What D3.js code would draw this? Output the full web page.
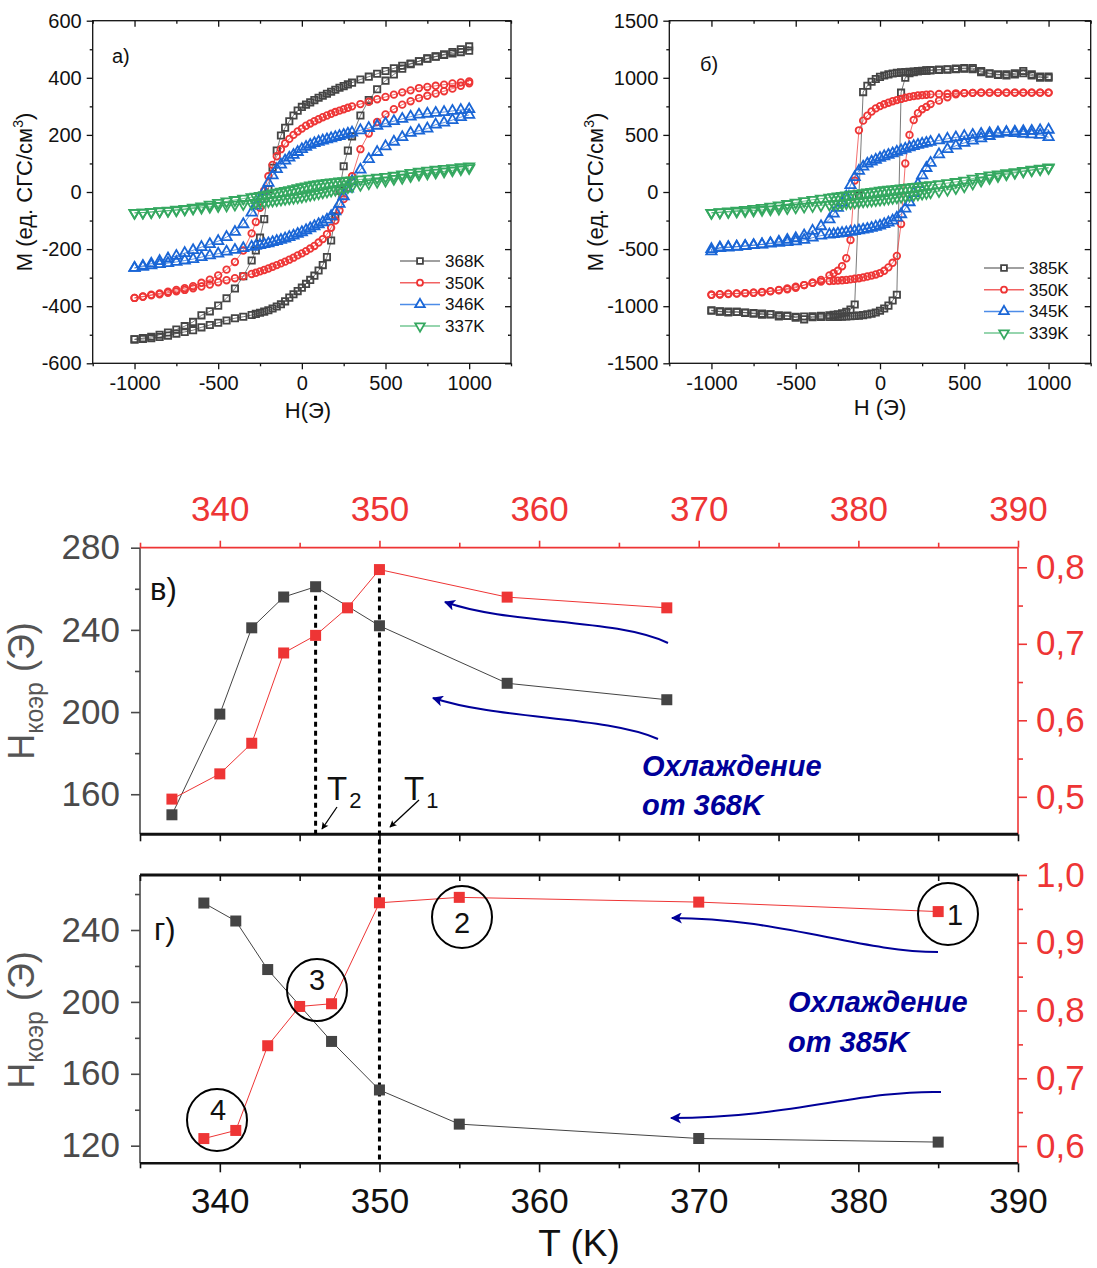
<!DOCTYPE html>
<html><head><meta charset="utf-8">
<script src="https://cdn.jsdelivr.net/npm/d3@7"></script>
<style>body{margin:0;background:#fff;} svg{display:block;}</style>
</head><body>
<svg id="c" width="1097" height="1268"></svg>
<script>
// ---------- DATA: hysteresis loops (field grid shared by all branches) ----------
const H_GRID = [1000,950,900,850,800,750,700,650,600,550,500,450,400,350,300,275,250,225,200,175,150,125,100,75,50,25,0,-25,-50,-75,-100,-125,-150,-175,-200,-225,-250,-275,-300,-350,-400,-450,-500,-550,-600,-650,-700,-750,-800,-850,-900,-950,-1000];
const H_TICKS = [-1000,-500,0,500,1000];
const H_MINOR = [-1250,-750,-250,250,750,1250];

// panel а) cooling from 368K
const A_LABELS = ['368K','350K','346K','337K'];
const A_368_DOWN = [495,490,485,480,474,467,458,450,442,433,424,414,404,394,383,377,371,365,358,351,344,337,330,322,314,306,298,285,268,248,225,198,145,85,10,-95,-160,-205,-240,-295,-338,-372,-398,-418,-432,-455,-470,-482,-492,-500,-507,-512,-516];
const A_368_UP   = [510,500,490,482,475,468,458,448,432,412,390,360,322,268,195,145,90,5,-85,-170,-228,-256,-275,-293,-308,-322,-335,-347,-358,-370,-383,-393,-401,-408,-414,-419,-423,-427,-431,-437,-442,-450,-458,-466,-474,-484,-490,-496,-503,-508,-512,-515,-516];
const A_350_DOWN = [387,384,380,376,372,368,364,356,349,341,333,325,316,308,300,295,290,285,280,274,268,262,255,248,240,232,222,212,200,186,170,150,125,95,55,5,-55,-105,-145,-205,-245,-272,-292,-307,-318,-330,-337,-343,-349,-355,-360,-366,-371];
const A_350_UP   = [381,372,362,353,345,337,329,318,306,290,272,245,205,150,55,15,-25,-65,-100,-125,-148,-165,-177,-189,-198,-207,-215,-222,-230,-237,-244,-250,-256,-262,-268,-273,-278,-283,-287,-295,-302,-309,-316,-324,-331,-337,-343,-348,-353,-358,-362,-367,-371];
const A_346_DOWN = [290,287,284,280,277,274,271,264,256,248,240,232,224,216,208,204,200,196,192,188,184,180,176,171,165,158,150,140,130,120,110,96,80,58,32,2,-25,-48,-72,-113,-140,-158,-172,-183,-193,-204,-214,-224,-233,-242,-251,-259,-266];
const A_346_UP   = [270,262,252,243,236,222,215,207,192,176,160,140,115,78,38,12,-15,-42,-68,-85,-97,-106,-113,-120,-127,-134,-141,-147,-153,-158,-163,-168,-172,-176,-180,-183,-186,-189,-192,-197,-203,-209,-216,-222,-228,-235,-240,-245,-249,-253,-257,-262,-266];
const A_337_DOWN = [90,87,84,81,78,75,71,67,62,57,53,50,47,44,41,40,38,37,35,34,32,30,28,26,23,20,17,14,10,7,4,1,-2,-5,-8,-11,-14,-16,-18,-23,-28,-33,-38,-44,-50,-55,-59,-62,-65,-67,-70,-72,-73];
const A_337_UP   = [84,80,76,72,68,65,61,56,50,46,40,36,31,25,20,17,14,11,8,5,2,-1,-4,-7,-10,-13,-16,-18,-20,-22,-24,-26,-28,-30,-32,-34,-36,-38,-40,-42,-44,-47,-49,-52,-55,-58,-61,-64,-66,-68,-70,-72,-73];
const A_M_TICKS = [-600,-400,-200,0,200,400,600];
const A_M_MINOR = [-500,-300,-100,100,300,500];

// panel б) cooling from 385K
const B_LABELS = ['385K','350K','345K','339K'];
const B_385_DOWN = [1000,1010,1030,1060,1040,1030,1025,1035,1050,1075,1080,1075,1072,1068,1065,1063,1060,1058,1055,1052,1050,1047,1043,1038,1030,1020,1008,990,965,930,875,-30,-985,-1030,-1050,-1062,-1070,-1076,-1080,-1085,-1088,-1090,-1092,-1085,-1080,-1072,-1065,-1060,-1055,-1050,-1048,-1045,-1040];
const B_385_UP   = [1010,1000,1020,1040,1030,1020,1030,1040,1060,1085,1085,1080,1075,1072,1068,1065,1062,1058,1050,1040,1000,870,-900,-950,-995,-1020,-1040,-1055,-1065,-1072,-1078,-1082,-1085,-1088,-1090,-1092,-1093,-1094,-1095,-1095,-1097,-1115,-1100,-1085,-1090,-1070,-1075,-1065,-1058,-1050,-1055,-1048,-1035];
const B_350_DOWN = [870,870,870,870,870,870,870,870,870,868,866,864,860,858,855,852,848,845,840,833,825,815,805,795,782,768,752,732,705,668,625,540,100,-420,-580,-650,-690,-712,-730,-770,-795,-815,-830,-845,-858,-870,-878,-882,-885,-888,-890,-895,-900];
const B_350_UP   = [870,870,870,870,870,870,870,870,870,868,866,855,830,800,770,745,725,690,630,500,250,-280,-560,-620,-660,-690,-710,-722,-732,-740,-748,-755,-760,-765,-770,-773,-776,-778,-780,-785,-795,-815,-838,-852,-860,-868,-876,-882,-886,-890,-893,-897,-900];
const B_345_DOWN = [545,540,535,532,528,525,520,515,508,500,490,478,466,452,438,430,422,412,402,390,378,365,352,338,325,312,298,282,265,248,222,185,130,60,-40,-95,-140,-190,-240,-300,-340,-380,-405,-420,-435,-448,-458,-466,-474,-480,-486,-492,-500];
const B_345_UP   = [480,500,505,510,515,520,510,490,470,450,430,405,375,330,255,210,145,70,-10,-90,-145,-195,-225,-250,-268,-282,-295,-305,-315,-323,-330,-337,-343,-349,-355,-360,-365,-369,-373,-382,-400,-420,-432,-440,-445,-452,-460,-466,-472,-478,-482,-486,-520];
const B_339_DOWN = [215,205,195,185,175,165,155,145,132,118,100,88,78,68,60,56,52,48,44,40,36,32,28,24,20,16,11,6,1,-4,-9,-14,-19,-24,-29,-34,-39,-44,-49,-58,-68,-80,-92,-105,-118,-128,-138,-148,-156,-163,-170,-176,-182];
const B_339_UP   = [210,200,190,180,168,155,140,122,100,75,50,35,20,8,-2,-8,-14,-20,-26,-31,-36,-41,-46,-51,-56,-61,-66,-70,-74,-78,-82,-86,-90,-94,-98,-101,-104,-107,-110,-116,-122,-128,-134,-140,-146,-152,-157,-162,-167,-171,-175,-179,-182];
const B_M_TICKS = [-1500,-1000,-500,0,500,1000,1500];
const B_M_MINOR = [-1250,-750,-250,250,750,1250];

// panel в) coercivity vs T, cooling from 368K
const V_T_HC = [337,340,342,344,346,350,358,368];
const V_HC   = [150,199,241,256,261,242,214,206];
const V_T_R  = [337,340,342,344,346,348,350,358,368];
const V_R    = [0.497,0.530,0.570,0.688,0.711,0.747,0.797,0.761,0.747];
// panel г) coercivity vs T, cooling from 385K
const G_T_HC = [339,341,343,347,350,355,370,385];
const G_HC   = [255,245,218,178,151,132,124,122];
const G_T_R  = [339,341,343,345,347,350,355,370,385];
const G_R    = [0.611,0.623,0.748,0.806,0.810,0.959,0.967,0.960,0.946];

const T_TICKS = [340,350,360,370,380,390];
const T_MINOR = [335,345,355,365,375,385];
const V_HC_TICKS = [160,200,240,280], V_HC_MINOR = [180,220,260];
const V_R_TICKS = [0.5,0.6,0.7,0.8], V_R_MINOR = [0.55,0.65,0.75];
const G_HC_TICKS = [120,160,200,240], G_HC_MINOR = [140,180,220,260];
const G_R_TICKS = [0.6,0.7,0.8,0.9,1.0], G_R_MINOR = [0.65,0.75,0.85,0.95];

// ---------- DRAWING ----------
const FONT = '"Liberation Sans", Arial, Helvetica, sans-serif';
const svg = d3.select('#c').attr('font-family', FONT);
const COLORS = ['#454545','#ee3535','#1a66d6','#35a860'];
const LEG_COLORS = ['#808080','#f26262','#4d8ce8','#73c793'];
const SYMS = [
  {t:d3.symbolSquare, s:40, r:0},
  {t:d3.symbolCircle, s:34, r:0},
  {t:d3.symbolTriangle, s:46, r:0},
  {t:d3.symbolTriangle, s:46, r:180}
];

const defs = svg.append('defs');
defs.append('marker').attr('id','arrBlue').attr('viewBox','0 0 10 10').attr('refX',9).attr('refY',5)
  .attr('markerUnits','userSpaceOnUse').attr('markerWidth',15).attr('markerHeight',11).attr('orient','auto')
  .append('path').attr('d','M0,0 L10,5 L0,10 L2.5,5 z').attr('fill','#000099');
defs.append('marker').attr('id','arrBlack').attr('viewBox','0 0 10 10').attr('refX',9).attr('refY',5)
  .attr('markerUnits','userSpaceOnUse').attr('markerWidth',10).attr('markerHeight',7).attr('orient','auto')
  .append('path').attr('d','M0,0 L10,5 L0,10 L2,5 z').attr('fill','#000');

function styleAxis(s, color, fs, w) {
  s.select('.domain').remove();
  s.attr('font-family', FONT).attr('font-size', fs);
  s.selectAll('line').attr('stroke', color).attr('stroke-width', w || 1.3);
  s.selectAll('text').attr('fill', color);
  return s;
}

function drawLoop(p) {
  const x = d3.scaleLinear().domain([-1250,1250]).range([p.x0,p.x1]);
  const y = d3.scaleLinear().domain(p.yDom).range([p.y1,p.y0]);
  const g = svg.append('g');
  const fmt = d => String(d);
  g.append('g').attr('transform',`translate(0,${p.y1})`)
    .call(d3.axisBottom(x).tickValues(H_TICKS).tickSize(6).tickFormat(fmt))
    .call(s => { styleAxis(s,'#111',20); s.selectAll('text').attr('y',27).attr('dy',0); });
  g.append('g').attr('transform',`translate(0,${p.y1})`)
    .call(d3.axisBottom(x).tickValues(H_MINOR).tickSize(3).tickFormat(''))
    .call(s => styleAxis(s,'#111',20));
  g.append('g').attr('transform',`translate(0,${p.y0})`)
    .call(d3.axisTop(x).tickValues(H_TICKS).tickSize(-6).tickFormat(''))
    .call(s => styleAxis(s,'#111',20));
  g.append('g').attr('transform',`translate(0,${p.y0})`)
    .call(d3.axisTop(x).tickValues(H_MINOR).tickSize(-3).tickFormat(''))
    .call(s => styleAxis(s,'#111',20));
  g.append('g').attr('transform',`translate(${p.x0},0)`)
    .call(d3.axisLeft(y).tickValues(p.yTicks).tickSize(6).tickPadding(5).tickFormat(fmt))
    .call(s => styleAxis(s,'#111',20));
  g.append('g').attr('transform',`translate(${p.x0},0)`)
    .call(d3.axisLeft(y).tickValues(p.yMinor).tickSize(3).tickFormat(''))
    .call(s => styleAxis(s,'#111',20));
  g.append('g').attr('transform',`translate(${p.x1},0)`)
    .call(d3.axisRight(y).tickValues(p.yTicks).tickSize(-6).tickFormat(''))
    .call(s => styleAxis(s,'#111',20));
  g.append('g').attr('transform',`translate(${p.x1},0)`)
    .call(d3.axisRight(y).tickValues(p.yMinor).tickSize(-3).tickFormat(''))
    .call(s => styleAxis(s,'#111',20));
  g.append('rect').attr('x',p.x0).attr('y',p.y0).attr('width',p.x1-p.x0).attr('height',p.y1-p.y0)
    .attr('fill','none').attr('stroke','#111').attr('stroke-width',1.3);

  const line = d3.line().x(d => x(d[0])).y(d => y(d[1]));
  p.series.forEach((se, i) => {
    const down = H_GRID.map((h,k) => [h, se.down[k]]);
    const up = H_GRID.map((h,k) => [h, se.up[k]]).reverse();
    const pts = down.concat(up);
    g.append('path').attr('d', line(pts)).attr('fill','none').attr('stroke',COLORS[i]).attr('stroke-width',0.9).attr('opacity',0.8);
    const sym = d3.symbol().type(SYMS[i].t).size(SYMS[i].s);
    g.append('g').selectAll('path').data(pts).join('path')
      .attr('d', sym())
      .attr('transform', d => `translate(${x(d[0])},${y(d[1])}) rotate(${SYMS[i].r})`)
      .attr('fill','none').attr('stroke',COLORS[i]).attr('stroke-width',1.8);
  });
  p.series.forEach((se, i) => {
    const ly = p.legY + i*21.7;
    g.append('line').attr('x1',p.legX).attr('x2',p.legX+40).attr('y1',ly).attr('y2',ly)
      .attr('stroke',LEG_COLORS[i]).attr('stroke-width',1.5);
    g.append('path').attr('d', d3.symbol().type(SYMS[i].t).size(SYMS[i].s - 6)())
      .attr('transform',`translate(${p.legX+20},${ly}) rotate(${SYMS[i].r})`)
      .attr('fill','#fff').attr('stroke',COLORS[i]).attr('stroke-width',1.8);
    g.append('text').attr('x',p.legX+45).attr('y',ly+6).attr('font-size',17).attr('fill','#111').text(se.label);
  });
  g.append('text').attr('x',p.tagX).attr('y',p.tagY).attr('font-size',20).attr('fill','#111').text(p.tag);
  g.append('text').attr('x',p.xlabX).attr('y',p.xlabY).attr('text-anchor','middle').attr('font-size',22).attr('fill','#111').text(p.xlab);
  const yl = g.append('text').attr('transform',`translate(${p.ylabX},${(p.y0+p.y1)/2}) rotate(-90)`)
    .attr('text-anchor','middle').attr('font-size',22).attr('fill','#111');
  yl.append('tspan').text('M (ед. СГС/см');
  yl.append('tspan').attr('font-size',14).attr('dy',-9).text('3');
  yl.append('tspan').attr('dy',9).text(')');
}

drawLoop({x0:92.7, x1:511, y0:20.7, y1:363.3, yDom:[-600,600], yTicks:A_M_TICKS, yMinor:A_M_MINOR,
  series:[
    {label:A_LABELS[0], down:A_368_DOWN, up:A_368_UP},
    {label:A_LABELS[1], down:A_350_DOWN, up:A_350_UP},
    {label:A_LABELS[2], down:A_346_DOWN, up:A_346_UP},
    {label:A_LABELS[3], down:A_337_DOWN, up:A_337_UP}],
  legX:400, legY:261, tag:'а)', tagX:112, tagY:63, xlab:'H(Э)', xlabX:308, xlabY:418, ylabX:32});

drawLoop({x0:669.3, x1:1090.7, y0:20.7, y1:363.3, yDom:[-1500,1500], yTicks:B_M_TICKS, yMinor:B_M_MINOR,
  series:[
    {label:B_LABELS[0], down:B_385_DOWN, up:B_385_UP},
    {label:B_LABELS[1], down:B_350_DOWN, up:B_350_UP},
    {label:B_LABELS[2], down:B_345_DOWN, up:B_345_UP},
    {label:B_LABELS[3], down:B_339_DOWN, up:B_339_UP}],
  legX:984, legY:268, tag:'б)', tagX:700, tagY:71, xlab:'H (Э)', xlabX:880, xlabY:415, ylabX:603});

// ---------- lower panels ----------
const GRAY = '#4a4a4a', RED = '#ee3535', BLUE = '#000099';
const xT = d3.scaleLinear().domain([335,390]).range([140,1018]);
const V = {y0:547.7, y1:834.3}, G = {y0:875, y1:1163.3};
const yVL = d3.scaleLinear().domain([140.5,280]).range([V.y1,V.y0]);
const yVR = d3.scaleLinear().domain([0.451,0.8256]).range([V.y1,V.y0]);
const yGL = d3.scaleLinear().domain([110.2,270.6]).range([G.y1,G.y0]);
const yGR = d3.scaleLinear().domain([0.5745,1.0]).range([G.y1,G.y0]);
const commaFmt = d => d3.format('.1f')(d).replace('.', ',');
const FS = 35;

function tempFrame(P, yL, yR, hcT, hcM, rT, rM) {
  svg.append('g').attr('transform',`translate(140,0)`)
    .call(d3.axisLeft(yL).tickValues(hcT).tickSize(9).tickPadding(11).tickFormat(d => d))
    .call(s => styleAxis(s, GRAY, FS, 1.6));
  svg.append('g').attr('transform',`translate(140,0)`)
    .call(d3.axisLeft(yL).tickValues(hcM).tickSize(5).tickFormat(''))
    .call(s => styleAxis(s, GRAY, FS, 1.6));
  svg.append('line').attr('x1',140).attr('x2',140).attr('y1',P.y0).attr('y2',P.y1).attr('stroke',GRAY).attr('stroke-width',1.6);
  svg.append('g').attr('transform',`translate(1018,0)`)
    .call(d3.axisRight(yR).tickValues(rT).tickSize(9).tickPadding(9).tickFormat(commaFmt))
    .call(s => styleAxis(s, RED, FS, 1.6));
  svg.append('g').attr('transform',`translate(1018,0)`)
    .call(d3.axisRight(yR).tickValues(rM).tickSize(5).tickFormat(''))
    .call(s => styleAxis(s, RED, FS, 1.6));
  svg.append('line').attr('x1',1018).attr('x2',1018).attr('y1',P.y0).attr('y2',P.y1).attr('stroke',RED).attr('stroke-width',1.6);
}

tempFrame(V, yVL, yVR, V_HC_TICKS, V_HC_MINOR, V_R_TICKS, V_R_MINOR);
svg.append('g').attr('transform',`translate(0,${V.y0})`)
  .call(d3.axisTop(xT).tickValues(T_TICKS).tickSize(7).tickFormat(d => d))
  .call(s => { styleAxis(s, RED, FS, 1.6); s.selectAll('text').attr('y',-27); });
svg.append('g').attr('transform',`translate(0,${V.y0})`)
  .call(d3.axisTop(xT).tickValues(T_MINOR).tickSize(5).tickFormat(''))
  .call(s => styleAxis(s, RED, FS, 1.6));
svg.append('line').attr('x1',140).attr('x2',1018).attr('y1',V.y0).attr('y2',V.y0).attr('stroke',RED).attr('stroke-width',1.8);
svg.append('g').attr('transform',`translate(0,${V.y1})`)
  .call(d3.axisBottom(xT).tickValues(T_TICKS.concat(T_MINOR)).tickSize(7).tickFormat(''))
  .call(s => styleAxis(s, '#111', FS, 1.6));
svg.append('line').attr('x1',140).attr('x2',1018).attr('y1',V.y1).attr('y2',V.y1).attr('stroke','#111').attr('stroke-width',3);

tempFrame(G, yGL, yGR, G_HC_TICKS, G_HC_MINOR, G_R_TICKS, G_R_MINOR);
svg.append('g').attr('transform',`translate(0,${G.y0})`)
  .call(d3.axisTop(xT).tickValues(T_TICKS.concat(T_MINOR)).tickSize(-6).tickFormat(''))
  .call(s => styleAxis(s, '#111', FS, 1.6));
svg.append('line').attr('x1',140).attr('x2',1018).attr('y1',G.y0).attr('y2',G.y0).attr('stroke','#111').attr('stroke-width',3);
svg.append('g').attr('transform',`translate(0,${G.y1})`)
  .call(d3.axisBottom(xT).tickValues(T_TICKS).tickSize(9).tickFormat(d => d))
  .call(s => { styleAxis(s, '#111', FS, 1.6); s.selectAll('text').attr('y',50).attr('dy',0); });
svg.append('g').attr('transform',`translate(0,${G.y1})`)
  .call(d3.axisBottom(xT).tickValues(T_MINOR).tickSize(5).tickFormat(''))
  .call(s => styleAxis(s, '#111', FS, 1.6));
svg.append('line').attr('x1',140).attr('x2',1018).attr('y1',G.y1).attr('y2',G.y1).attr('stroke','#111').attr('stroke-width',2.5);

function vdots(T, ya, yb) {
  svg.append('line').attr('x1',xT(T)).attr('x2',xT(T)).attr('y1',ya).attr('y2',yb)
    .attr('stroke','#000').attr('stroke-width',3).attr('stroke-dasharray','5,4');
}
vdots(V_T_HC[4], yVL(V_HC[4]), V.y1);
vdots(V_T_R[6], yVR(V_R[6]), G.y1);

function series(ts, vs, yS, color) {
  const pts = ts.map((t,i) => [t, vs[i]]);
  svg.append('path').attr('d', d3.line().x(d => xT(d[0])).y(d => yS(d[1]))(pts))
    .attr('fill','none').attr('stroke',color).attr('stroke-width',1);
  svg.append('g').selectAll('rect').data(pts).join('rect')
    .attr('x', d => xT(d[0]) - 5.5).attr('y', d => yS(d[1]) - 5.5)
    .attr('width',11).attr('height',11).attr('fill',color);
}
series(V_T_HC, V_HC, yVL, '#444');
series(V_T_R, V_R, yVR, RED);
series(G_T_HC, G_HC, yGL, '#444');
series(G_T_R, G_R, yGR, RED);

function hcLabel(cy) {
  const t = svg.append('text').attr('transform',`translate(34,${cy}) rotate(-90)`)
    .attr('text-anchor','middle').attr('font-size',36).attr('fill','#555');
  t.append('tspan').text('H');
  t.append('tspan').attr('font-size',25).attr('dy',9).text('коэр');
  t.append('tspan').attr('dy',-9).text(' (Э)');
}
hcLabel(691);
hcLabel(1020);
svg.append('text').attr('x',579).attr('y',1256).attr('text-anchor','middle').attr('font-size',37).attr('fill','#111').text('T (K)');
svg.append('text').attr('x',150).attr('y',600).attr('font-size',31).attr('fill','#111').text('в)');
svg.append('text').attr('x',154).attr('y',940).attr('font-size',31).attr('fill','#111').text('г)');

function tLabel(x, y, sub) {
  const t = svg.append('text').attr('x',x).attr('y',y).attr('font-size',33).attr('fill','#111');
  t.append('tspan').text('T');
  t.append('tspan').attr('font-size',22).attr('dy',8).attr('dx',2).text(sub);
}
tLabel(327, 800, '2');
tLabel(404, 800, '1');
svg.append('line').attr('x1',337).attr('y1',807).attr('x2',322).attr('y2',829).attr('stroke','#000').attr('stroke-width',1.3).attr('marker-end','url(#arrBlack)');
svg.append('line').attr('x1',419).attr('y1',800).attr('x2',390).attr('y2',827).attr('stroke','#000').attr('stroke-width',1.3).attr('marker-end','url(#arrBlack)');

const arrows = [
  'M668,643 C615,618 510,625 445,602',
  'M658,739 C605,716 500,720 433,698',
  'M938,952 C860,952 780,918 672,918',
  'M941,1092 C860,1090 790,1118 671,1118'
];
arrows.forEach(d => svg.append('path').attr('d',d).attr('fill','none').attr('stroke',BLUE).attr('stroke-width',2).attr('marker-end','url(#arrBlue)'));

function coolText(x, y1, y2, temp) {
  svg.append('text').attr('x',x).attr('y',y1).attr('font-size',29).attr('font-weight','bold').attr('font-style','italic').attr('fill',BLUE).text('Охлаждение');
  svg.append('text').attr('x',x).attr('y',y2).attr('font-size',29).attr('font-weight','bold').attr('font-style','italic').attr('fill',BLUE).text('от ' + temp);
}
coolText(642, 776, 815, '368K');
coolText(788, 1012, 1052, '385K');

const circ = [
  {cx:948, cy:914, tx:955, ty:925, n:'1'},
  {cx:462, cy:917, tx:462, ty:933, n:'2'},
  {cx:317, cy:990, tx:317, ty:990, n:'3'},
  {cx:217, cy:1120, tx:218, ty:1120, n:'4'}
];
circ.forEach(c => {
  svg.append('ellipse').attr('cx',c.cx).attr('cy',c.cy).attr('rx',30).attr('ry',31)
    .attr('fill','none').attr('stroke','#000').attr('stroke-width',2);
  svg.append('text').attr('x',c.tx).attr('y',c.ty).attr('text-anchor','middle').attr('font-size',29).attr('fill','#111').text(c.n);
});
</script>
</body></html>
